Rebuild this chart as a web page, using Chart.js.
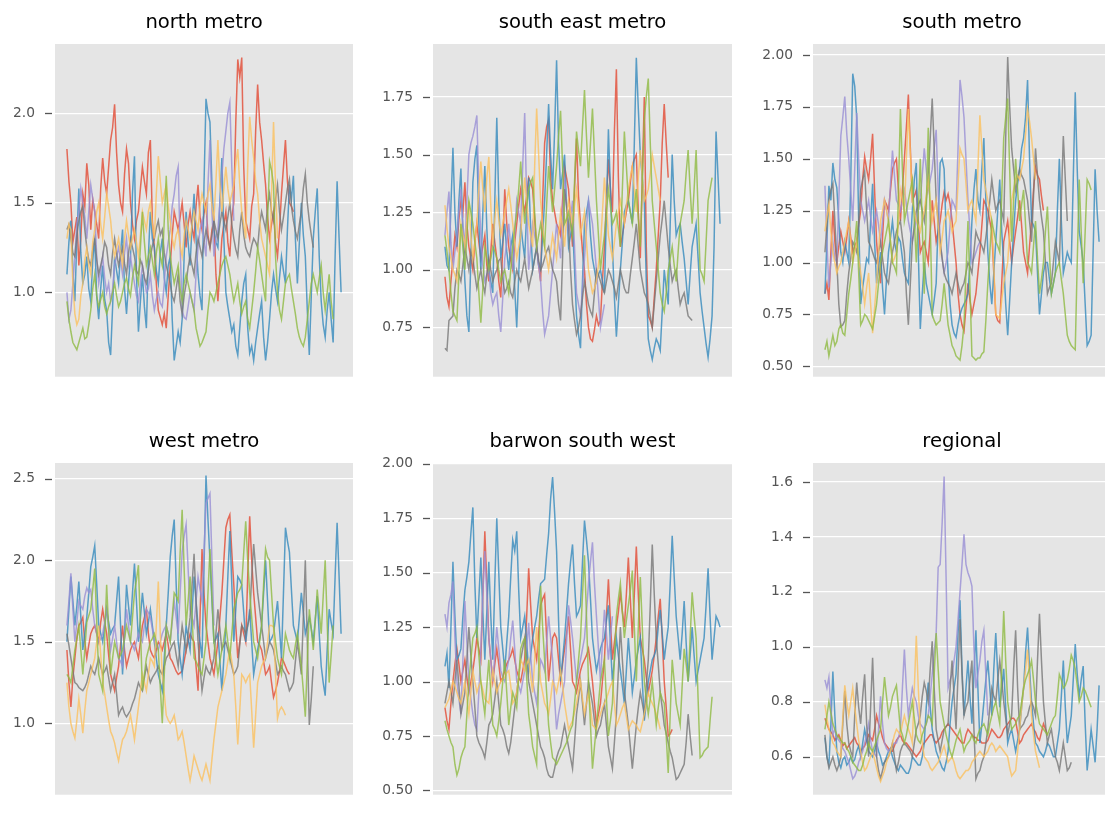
<!DOCTYPE html>
<html>
<head>
<meta charset="utf-8">
<script src="https://cdn.jsdelivr.net/npm/chart.js@4.4.0/dist/chart.umd.min.js"></script>
<style>
    html, body { margin: 0; padding: 0; background: #fff; overflow: hidden; width: 1105px; height: 818px; }
    canvas { position: absolute; }
</style>
</head>
<body>
<canvas id="g0" width="353" height="405" style="left:0px;top:0px"></canvas>
<canvas id="g1" width="354" height="405" style="left:378px;top:0px"></canvas>
<canvas id="g2" width="353" height="405" style="left:758px;top:0px"></canvas>
<canvas id="g3" width="353" height="404" style="left:0px;top:419px"></canvas>
<canvas id="g4" width="354" height="404" style="left:378px;top:419px"></canvas>
<canvas id="g5" width="353" height="404" style="left:758px;top:419px"></canvas>
<script>
var regioes = ['north metro', 'south east metro', 'south metro', 'west metro', 'barwon south west', 'regional'];
var cores = ['rgba(226,74,51,0.8)', 'rgba(52,138,189,0.8)', 'rgba(152,142,213,0.8)',
             'rgba(119,119,119,0.8)', 'rgba(251,193,94,0.8)', 'rgba(142,186,66,0.8)'];

// north metro
var nmVermelho = [1.80,1.62,1.50,1.28,1.35,1.42,1.15,1.30,1.55,1.48,
    1.72,1.60,1.35,1.52,1.45,1.38,1.30,1.58,1.75,1.62,
    1.55,1.70,1.85,1.92,2.05,1.78,1.60,1.50,1.45,1.66,
    1.80,1.72,1.50,1.38,1.30,1.40,1.45,1.58,1.70,1.62,
    1.55,1.78,1.85,1.40,1.25,1.05,0.90,0.86,0.82,0.88,
    0.80,0.98,1.15,1.32,1.45,1.40,1.35,1.42,1.50,1.38,
    1.25,1.38,1.45,1.36,1.30,1.48,1.60,1.42,1.35,1.44,
    1.50,1.32,1.25,1.35,1.40,1.10,0.95,1.12,1.30,1.38,
    1.45,1.28,1.20,1.42,1.50,1.95,2.30,2.20,2.31,1.70,
    1.40,1.35,1.30,1.48,1.55,1.90,2.16,1.95,1.85,1.72,
    1.60,1.42,1.30,1.38,1.45,1.28,1.20,1.35,1.55,1.70,
    1.85,1.62,1.50,1.48,1.45];
var nmAzul = [1.10,1.28,1.40,1.12,0.95,1.30,1.58,1.22,1.05,1.10,
    1.20,1.02,0.95,1.18,1.30,0.98,0.85,1.02,1.15,0.96,
    0.90,0.72,0.65,0.92,1.20,1.12,1.05,1.22,1.35,1.02,
    0.88,1.05,1.20,1.55,1.76,1.10,0.78,0.95,1.10,0.92,
    0.80,1.20,1.45,1.30,1.25,1.12,1.05,1.22,1.30,1.08,
    1.00,1.15,1.20,0.85,0.62,0.70,0.78,0.72,0.85,1.20,
    1.45,1.28,1.15,1.38,1.55,1.30,1.10,0.98,0.90,1.60,
    2.08,2.00,1.95,1.60,1.35,1.28,1.25,1.50,1.75,1.30,
    1.00,0.92,0.85,0.78,0.82,0.70,0.65,0.80,0.95,1.05,
    1.10,0.80,0.66,0.70,0.62,0.72,0.80,0.88,0.95,0.75,
    0.62,0.72,0.85,1.00,1.10,1.02,0.95,1.08,1.20,1.12,
    1.05,1.35,1.60,1.52,1.65,1.30,1.05,1.28,1.50,1.32,
    1.20,0.90,0.65,0.98,1.30,1.45,1.58,1.20,0.95,0.82,
    0.75,0.90,1.00,0.85,0.72,1.20,1.62,1.30,1.00];
var nmRoxo = [1.00,0.85,0.90,1.05,1.20,1.38,1.45,1.58,1.50,1.42,
    1.30,1.45,1.60,1.52,1.45,1.20,1.05,1.12,1.20,1.08,
    1.00,1.05,0.95,1.02,1.15,1.20,1.25,1.18,1.10,1.22,
    1.30,1.15,1.20,1.12,1.05,0.98,0.95,1.05,1.15,1.08,
    1.00,1.02,1.10,0.98,0.90,0.96,1.00,0.94,0.92,1.05,
    1.20,1.28,1.35,1.48,1.55,1.65,1.70,1.25,0.90,0.86,
    0.85,0.92,1.00,0.95,0.90,1.10,1.25,1.35,1.40,1.28,
    1.20,1.60,1.85,1.45,1.20,1.30,1.35,1.50,1.65,1.80,
    1.90,2.00,2.06,1.70,1.40];
var nmCinza = [1.35,1.38,1.30,1.22,1.20,1.32,1.40,1.45,1.48,1.35,
    1.25,1.18,1.15,1.24,1.30,1.18,1.10,1.15,1.20,1.28,
    1.25,1.15,1.10,1.22,1.30,1.22,1.15,1.20,1.25,1.16,
    1.10,1.22,1.30,1.25,1.20,1.12,1.10,1.18,1.15,1.08,
    1.05,1.12,1.20,1.26,1.30,1.36,1.40,1.32,1.35,1.22,
    1.15,1.10,1.05,0.98,0.95,1.02,1.10,0.95,0.88,0.98,
    1.05,1.14,1.20,1.15,1.10,1.22,1.30,1.25,1.20,1.28,
    1.35,1.30,1.25,1.32,1.40,1.35,1.30,1.38,1.45,1.40,
    1.35,1.42,1.50,1.38,1.30,1.24,1.20,1.35,1.45,1.32,
    1.25,1.22,1.20,1.26,1.30,1.28,1.25,1.38,1.45,1.40,
    1.35,1.48,1.55,1.45,1.40,1.52,1.60,1.45,1.35,1.42,
    1.50,1.58,1.63,1.48,1.40,1.34,1.30,1.38,1.45,1.58,
    1.66,1.50,1.40,1.32,1.25];
var nmAmarelo = [1.30,1.38,1.35,1.05,0.88,0.82,0.85,0.98,1.05,1.18,
    1.25,1.15,1.10,1.28,1.35,1.45,1.50,1.38,1.30,1.42,
    1.55,1.48,1.40,1.28,1.20,1.25,1.30,1.22,1.15,1.30,
    1.40,1.32,1.25,1.30,1.35,1.28,1.20,1.32,1.45,1.40,
    1.35,1.45,1.50,1.38,1.30,1.55,1.76,1.62,1.50,1.55,
    1.60,1.48,1.40,1.30,1.25,1.32,1.35,1.26,1.20,1.32,
    1.40,1.35,1.30,1.38,1.45,1.40,1.35,1.48,1.55,1.50,
    1.45,1.55,1.60,1.48,1.40,1.62,1.85,1.60,1.45,1.58,
    1.70,1.58,1.50,1.55,1.60,1.72,1.80,1.60,1.45,1.38,
    1.30,1.70,1.98,1.85,1.75,1.62,1.55,1.40,1.30,1.25,
    1.20,1.15,1.10,1.55,1.95,1.60,1.30];
var nmVerde = [0.95,0.85,0.78,0.72,0.70,0.68,0.72,0.76,0.80,0.74,
    0.75,0.82,0.90,1.02,1.10,0.98,0.92,0.96,1.00,0.92,
    0.88,0.92,0.95,1.00,1.05,0.98,0.92,0.95,1.00,1.05,
    1.08,1.02,0.98,1.08,1.15,1.10,1.05,1.25,1.45,1.28,
    1.15,1.20,1.25,1.18,1.10,1.22,1.30,1.20,1.15,1.40,
    1.65,1.35,1.20,1.12,1.05,1.10,1.15,1.02,0.95,1.05,
    1.10,1.05,1.00,0.95,0.90,0.80,0.75,0.70,0.72,0.75,
    0.78,0.90,1.00,0.98,0.95,1.00,1.05,1.10,1.15,1.18,
    1.20,1.15,1.10,1.02,0.95,1.00,1.05,0.95,0.88,0.92,
    0.95,0.85,0.80,0.90,1.00,1.12,1.25,1.18,1.10,1.02,
    0.95,1.40,1.73,1.68,1.60,1.20,1.00,0.90,0.85,0.95,
    1.05,1.08,1.10,1.02,0.95,0.88,0.80,0.75,0.72,0.70,
    0.75,0.85,0.95,1.05,1.10,1.05,1.00,1.08,1.15,1.00,
    0.90,1.00,1.10,0.95,0.85];
var nmTicks = [1.0, 1.5, 2.0];

// south east metro
var semVermelho = [0.97,0.88,0.84,0.95,1.05,1.15,1.10,1.22,1.30,1.25,
    1.38,1.20,1.10,1.05,1.00,1.12,1.20,1.12,1.05,1.10,
    1.15,1.02,0.95,1.08,1.20,1.12,1.05,0.95,0.88,1.10,
    1.35,1.20,1.10,1.04,1.00,1.12,1.20,1.28,1.35,1.30,
    1.25,1.32,1.40,1.38,1.35,1.22,1.10,1.02,0.95,1.30,
    1.55,1.62,1.65,1.40,1.30,1.25,1.20,1.18,1.15,1.30,
    1.45,1.40,1.35,1.22,1.10,1.35,1.57,1.32,1.20,1.08,
    1.00,0.85,0.75,0.70,0.69,0.74,0.80,0.76,0.78,0.95,
    1.10,1.30,1.48,1.35,1.25,1.60,1.87,1.40,1.10,1.15,
    1.20,1.25,1.30,1.38,1.45,1.48,1.50,1.25,1.05,1.40,
    1.75,1.10,0.80,0.78,0.75,0.88,1.00,1.15,1.30,1.55,
    1.72,1.55,1.40];
var semAzul = [1.10,1.02,1.00,1.28,1.53,1.25,1.10,1.30,1.44,1.15,
    0.95,0.80,0.73,1.05,1.38,1.48,1.54,1.20,1.00,1.25,
    1.45,1.18,1.00,0.95,0.90,1.30,1.66,1.30,1.05,1.12,
    1.20,1.08,1.00,1.10,1.15,0.92,0.75,0.98,1.20,1.12,
    1.05,1.25,1.40,1.18,1.00,1.05,1.10,1.02,1.00,1.15,
    1.30,1.50,1.72,1.50,1.35,1.60,1.91,1.55,1.35,1.42,
    1.50,1.28,1.10,1.15,1.20,1.00,0.80,0.72,0.66,0.95,
    1.20,1.25,1.30,1.15,1.05,1.00,0.95,0.98,1.00,0.95,
    0.90,1.25,1.61,1.35,1.10,0.88,0.71,0.85,1.00,1.12,
    1.25,1.28,1.30,1.25,1.20,1.55,1.92,1.70,1.50,1.40,
    1.30,0.95,0.70,0.65,0.61,0.66,0.70,0.68,0.65,0.82,
    1.00,0.92,0.85,1.20,1.50,1.30,1.15,1.18,1.20,1.12,
    1.05,0.95,0.85,0.98,1.10,1.15,1.20,1.05,0.90,0.82,
    0.75,0.68,0.62,0.70,0.80,1.10,1.60,1.40,1.20];
var semRoxo = [1.15,1.25,1.34,1.12,1.00,1.08,1.15,1.25,1.35,1.20,
    1.10,1.30,1.50,1.55,1.58,1.62,1.67,1.35,1.15,1.02,
    0.95,0.98,1.00,0.90,0.85,0.88,0.90,0.80,0.73,0.88,
    1.05,1.12,1.20,1.10,1.00,1.15,1.30,1.25,1.20,1.45,
    1.68,1.30,1.00,1.10,1.20,1.15,1.10,1.02,0.95,0.82,
    0.72,0.76,0.80,0.90,1.00,1.10,1.20,1.12,1.05,1.25,
    1.40,1.28,1.15,1.22,1.30,1.10,0.90,0.85,0.80,0.92,
    1.05,1.18,1.30,1.25,1.20,1.10,1.00,0.88,0.75,0.80,
    0.85];
var semCinza = [0.66,0.65,0.78,0.79,0.80,0.92,1.00,0.98,0.95,1.02,
    1.10,1.05,1.00,1.08,1.05,0.98,0.92,0.96,1.00,0.94,
    0.90,0.98,1.05,1.00,0.95,0.98,1.00,1.04,1.05,0.96,
    0.90,0.92,0.95,0.90,0.88,0.95,1.00,0.97,0.95,1.00,
    1.05,0.98,0.92,0.96,1.00,1.05,1.10,1.04,1.00,1.02,
    1.05,1.08,1.10,1.05,1.00,0.98,0.95,0.85,0.78,1.05,
    1.35,1.28,1.20,1.00,0.85,0.78,0.72,0.75,0.80,0.88,
    0.95,0.90,0.85,0.82,0.80,0.90,1.00,0.98,0.95,0.92,
    0.90,0.95,1.00,0.98,0.95,0.92,0.88,0.94,1.00,0.96,
    0.92,0.90,0.90,0.98,1.05,1.12,1.20,1.10,1.00,0.95,
    0.90,0.88,0.85,0.80,0.75,0.85,0.95,1.05,1.15,1.22,
    1.30,1.20,1.10,1.02,0.95,0.98,1.00,0.92,0.85,0.88,
    0.90,0.85,0.80,0.79,0.78];
var semAmarelo = [1.28,1.18,1.10,1.05,1.00,0.98,0.95,1.08,1.20,1.15,
    1.10,1.22,1.30,1.15,1.05,1.12,1.20,1.35,1.47,1.35,
    1.25,1.40,1.49,1.28,1.10,1.22,1.30,1.22,1.15,1.20,
    1.25,1.30,1.35,1.28,1.20,1.12,1.05,1.10,1.15,1.28,
    1.40,1.30,1.20,1.15,1.10,1.45,1.70,1.50,1.30,1.20,
    1.10,1.05,1.00,1.08,1.15,1.10,1.05,1.15,1.25,1.18,
    1.10,1.22,1.30,1.25,1.20,1.28,1.35,1.25,1.15,1.20,
    1.25,1.12,1.00,0.95,0.90,0.92,0.95,1.02,1.10,1.25,
    1.40,1.28,1.15,1.10,1.05,1.12,1.20,1.25,1.30,1.25,
    1.20,1.28,1.35,1.40,1.45,1.35,1.25,1.40,1.52,1.40,
    1.30,1.32,1.35,1.42,1.50,1.45,1.40,1.35,1.30];
var semVerde = [1.15,1.08,1.00,0.90,0.82,0.80,0.78,0.98,1.20,1.10,
    1.00,1.15,1.30,1.25,1.20,1.12,1.05,0.90,0.77,0.92,
    1.10,1.05,1.00,1.05,1.10,1.08,1.05,1.00,0.95,0.98,
    1.00,0.95,0.90,1.00,1.10,1.18,1.25,1.35,1.47,1.32,
    1.20,1.28,1.35,1.38,1.40,1.25,1.10,1.15,1.20,1.15,
    1.10,1.28,1.45,1.35,1.25,1.35,1.45,1.58,1.69,1.45,
    1.20,1.22,1.25,1.20,1.15,1.38,1.60,1.52,1.45,1.62,
    1.78,1.58,1.40,1.55,1.70,1.50,1.30,1.15,1.00,1.08,
    1.15,1.25,1.35,1.28,1.20,1.22,1.25,1.18,1.10,1.35,
    1.60,1.45,1.30,1.25,1.20,1.28,1.35,1.22,1.10,1.38,
    1.65,1.75,1.83,1.55,1.30,1.20,1.10,1.00,0.90,0.85,
    0.82,0.90,1.00,1.05,1.10,1.02,0.95,1.08,1.20,1.25,
    1.30,1.42,1.52,1.35,1.20,1.35,1.52,1.25,1.00,0.98,
    0.95,1.12,1.30,1.35,1.40];
var semTicks = [0.75, 1.00, 1.25, 1.50, 1.75];

// south metro
var smVermelho = [0.85,0.90,0.82,1.05,1.25,1.10,1.00,1.08,1.15,1.10,
    1.05,1.12,1.20,1.12,1.05,1.08,1.10,1.18,1.25,1.40,
    1.51,1.45,1.40,1.50,1.62,1.35,1.10,0.98,0.90,1.12,
    1.30,1.28,1.25,1.35,1.45,1.48,1.50,1.35,1.20,1.35,
    1.50,1.65,1.81,1.55,1.30,1.32,1.35,1.20,1.05,1.08,
    1.10,1.05,1.00,1.15,1.30,1.20,1.10,1.15,1.20,1.28,
    1.34,1.30,1.33,1.28,1.20,1.10,1.00,0.85,0.75,0.70,
    0.67,0.78,0.90,0.82,0.75,0.80,0.85,0.95,1.05,1.18,
    1.30,1.28,1.25,1.20,1.15,0.95,0.75,0.72,0.71,0.90,
    1.10,1.15,1.20,1.10,1.00,1.08,1.15,1.22,1.30,1.18,
    1.05,1.00,0.95,1.08,1.20,1.35,1.46,1.42,1.40,1.32,
    1.25];
var smAzul = [0.85,1.10,1.37,1.30,1.48,1.40,1.36,1.20,1.05,1.00,
    1.10,1.05,1.00,1.40,1.91,1.85,1.70,1.20,0.80,0.88,
    0.95,1.02,1.00,1.20,1.38,1.10,0.90,0.98,1.05,0.88,
    0.75,0.92,1.05,1.12,1.20,1.10,1.05,1.12,1.10,1.02,
    0.95,0.92,0.90,1.08,1.25,1.40,1.48,1.05,0.68,0.85,
    1.00,0.90,0.85,0.80,0.75,0.82,0.90,1.20,1.48,1.50,
    1.45,1.15,0.95,0.80,0.70,0.66,0.64,0.70,0.75,0.78,
    0.80,0.82,0.85,1.00,1.20,1.35,1.45,1.30,1.25,1.45,
    1.60,1.30,1.05,0.90,0.80,0.95,1.10,1.25,1.40,1.15,
    1.00,0.80,0.65,0.82,1.00,1.15,1.30,1.38,1.45,1.55,
    1.60,1.70,1.88,1.50,1.20,1.18,1.15,0.95,0.75,0.85,
    0.95,1.00,1.00,0.92,0.85,0.90,0.95,1.25,1.50,1.20,
    0.95,1.00,1.05,1.02,1.00,1.40,1.82,1.45,1.15,1.08,
    1.00,0.80,0.60,0.62,0.65,1.05,1.45,1.25,1.10];
var smRoxo = [1.37,1.10,0.88,1.00,1.10,1.02,1.00,1.30,1.61,1.70,
    1.80,1.62,1.50,1.35,1.20,1.45,1.72,1.50,1.30,1.25,
    1.20,1.25,1.30,1.22,1.15,1.20,1.25,1.18,1.10,1.20,
    1.30,1.25,1.20,1.38,1.54,1.42,1.30,1.28,1.25,1.30,
    1.35,1.28,1.20,1.15,1.10,1.15,1.20,1.25,1.30,1.42,
    1.55,1.45,1.35,1.40,1.45,1.55,1.64,1.35,1.10,1.02,
    0.95,1.00,1.05,1.18,1.30,1.28,1.25,1.55,1.88,1.80,
    1.70,1.50,1.30,1.15,1.00,1.02,1.05,1.08,1.10];
var smCinza = [1.05,1.18,1.30,1.35,1.38,1.20,1.00,0.80,0.69,0.70,
    0.72,0.85,0.95,1.02,1.10,1.08,1.05,1.20,1.35,1.40,
    1.44,1.25,1.10,1.08,1.05,1.02,1.00,1.05,1.10,1.02,
    0.95,0.92,0.90,0.98,1.05,1.10,1.15,1.18,1.20,1.12,
    1.05,0.85,0.70,0.90,1.10,1.18,1.25,1.28,1.30,1.25,
    1.20,1.30,1.40,1.60,1.79,1.55,1.30,1.20,1.10,1.02,
    0.95,0.92,0.90,0.88,0.85,0.90,0.95,0.90,0.85,0.88,
    0.90,0.95,1.00,0.98,0.95,1.05,1.15,1.12,1.10,1.08,
    1.05,1.12,1.20,1.30,1.40,1.32,1.25,1.28,1.30,1.25,
    1.20,1.60,1.99,1.75,1.55,1.45,1.35,1.40,1.45,1.42,
    1.40,1.35,1.30,1.20,1.10,1.32,1.55,1.42,1.30,1.22,
    1.15,1.00,0.85,0.88,0.90,1.00,1.10,1.05,1.00,1.30,
    1.61,1.40,1.20];
var smAmarelo = [1.15,1.22,1.28,1.15,1.05,1.00,0.95,0.98,1.00,1.05,
    1.10,1.15,1.20,1.10,1.00,1.05,1.10,1.02,0.95,0.88,
    0.80,0.88,0.95,0.80,0.66,0.78,0.90,1.05,1.20,1.25,
    1.30,1.25,1.20,1.10,1.00,1.02,1.05,1.20,1.35,1.30,
    1.25,1.50,1.74,1.52,1.30,1.25,1.20,1.18,1.15,1.20,
    1.25,1.32,1.40,1.30,1.20,1.25,1.30,1.18,1.05,1.12,
    1.20,1.22,1.25,1.20,1.15,1.18,1.20,1.38,1.55,1.52,
    1.50,1.38,1.25,1.28,1.30,1.25,1.20,1.45,1.71,1.55,
    1.40,1.35,1.30,1.25,1.20,0.98,0.75,0.74,0.73,0.82,
    0.90,0.95,1.00,1.15,1.30,1.35,1.40,1.42,1.40,1.45,
    1.50,1.62,1.74,1.68,1.60,1.50,1.40];
var smVerde = [0.58,0.62,0.55,0.60,0.65,0.60,0.62,0.68,0.70,0.66,
    0.65,0.75,0.85,0.92,1.00,1.10,1.20,0.95,0.70,0.72,
    0.75,0.74,0.72,0.70,0.68,0.74,0.80,0.90,1.00,1.05,
    1.10,1.15,1.20,1.10,1.00,0.98,0.95,1.35,1.74,1.45,
    1.20,1.25,1.30,1.35,1.40,1.20,1.00,1.25,1.50,1.18,
    0.85,1.25,1.65,1.20,0.75,0.72,0.70,0.71,0.72,0.80,
    0.90,0.80,0.70,0.65,0.60,0.58,0.55,0.54,0.53,0.60,
    0.70,0.95,1.20,0.88,0.55,0.54,0.53,0.54,0.54,0.56,
    0.57,0.72,0.90,1.05,1.20,1.15,1.10,1.08,1.05,1.32,
    1.60,1.70,1.79,1.45,1.10,1.30,1.50,1.35,1.20,1.28,
    1.35,1.18,1.00,0.98,0.95,1.08,1.20,1.02,0.85,0.92,
    1.00,1.15,1.27,1.05,0.85,0.90,0.95,0.98,1.00,0.92,
    0.85,0.75,0.65,0.62,0.60,0.59,0.58,1.00,1.40,1.15,
    0.90,1.15,1.40,1.38,1.35];
var smTicks = [0.50, 0.75, 1.00, 1.25, 1.50, 1.75, 2.00];

// west metro
var wmVermelho = [1.45,1.25,1.10,1.28,1.40,1.52,1.60,1.62,1.65,1.50,
    1.40,1.48,1.55,1.58,1.60,1.55,1.50,1.62,1.70,1.62,
    1.55,1.42,1.30,1.25,1.20,1.28,1.35,1.48,1.60,1.45,
    1.35,1.40,1.45,1.48,1.50,1.45,1.40,1.50,1.60,1.65,
    1.70,1.55,1.45,1.42,1.40,1.45,1.50,1.48,1.45,1.50,
    1.55,1.48,1.40,1.38,1.35,1.32,1.30,1.31,1.32,1.38,
    1.45,1.50,1.55,1.52,1.50,1.35,1.20,1.65,2.07,1.80,
    1.60,1.50,1.40,1.35,1.30,1.40,1.50,1.65,1.80,2.00,
    2.20,2.25,2.28,2.05,1.85,1.60,1.40,1.50,1.60,1.55,
    1.50,1.90,2.27,2.00,1.80,1.65,1.50,1.48,1.45,1.38,
    1.30,1.32,1.35,1.25,1.16,1.20,1.25,1.32,1.40,1.38,
    1.35,1.32,1.30];
var wmAzul = [1.50,1.70,1.90,1.75,1.60,1.72,1.87,1.65,1.45,1.55,
    1.65,1.80,1.96,2.02,2.09,1.85,1.60,1.55,1.50,1.60,
    1.70,1.62,1.55,1.58,1.60,1.75,1.90,1.60,1.30,1.55,
    1.85,1.72,1.60,1.80,1.98,1.75,1.50,1.65,1.80,1.68,
    1.55,1.62,1.70,1.60,1.50,1.40,1.30,1.25,1.20,1.40,
    1.60,1.80,2.02,2.15,2.25,1.85,1.50,1.40,1.30,1.45,
    1.60,1.52,1.45,1.68,1.90,1.75,1.60,1.50,1.40,1.95,
    2.52,2.25,2.00,1.75,1.50,1.52,1.55,1.38,1.20,1.40,
    1.60,1.90,2.18,1.85,1.50,1.70,1.90,1.88,1.85,1.68,
    1.50,1.60,1.70,1.50,1.30,1.38,1.45,1.52,1.60,1.80,
    2.00,1.75,1.50,1.52,1.55,1.65,1.75,1.58,1.40,1.80,
    2.20,2.12,2.05,1.82,1.60,1.55,1.50,1.65,1.80,1.68,
    1.55,1.60,1.65,1.58,1.50,1.64,1.78,1.55,1.35,1.25,
    1.17,1.45,1.70,1.62,1.55,1.90,2.23,1.90,1.55];
var wmRoxo = [1.60,1.75,1.92,1.70,1.50,1.62,1.75,1.72,1.70,1.78,
    1.83,1.80,1.82,1.70,1.60,1.55,1.50,1.52,1.55,1.62,
    1.70,1.58,1.45,1.52,1.60,1.50,1.40,1.38,1.35,1.52,
    1.70,1.60,1.50,1.48,1.45,1.50,1.55,1.52,1.50,1.60,
    1.70,1.68,1.65,1.58,1.50,1.48,1.45,1.50,1.55,1.58,
    1.60,1.55,1.50,1.62,1.75,1.65,1.55,1.80,2.05,2.15,
    2.22,1.95,1.70,1.65,1.60,1.75,1.90,1.82,1.75,2.05,
    2.35,2.38,2.41,2.00,1.60];
var wmCinza = [1.55,1.48,1.40,1.32,1.25,1.24,1.22,1.21,1.20,1.22,
    1.25,1.30,1.35,1.32,1.30,1.35,1.40,1.35,1.30,1.32,
    1.35,1.28,1.20,1.25,1.30,1.18,1.05,1.08,1.10,1.06,
    1.04,1.06,1.08,1.12,1.15,1.20,1.25,1.22,1.20,1.28,
    1.35,1.30,1.25,1.28,1.30,1.32,1.35,1.32,1.30,1.35,
    1.40,1.42,1.45,1.48,1.50,1.42,1.35,1.48,1.60,1.52,
    1.45,1.55,1.65,1.85,2.04,1.75,1.50,1.35,1.20,1.28,
    1.35,1.32,1.30,1.35,1.40,1.55,1.70,1.58,1.45,1.48,
    1.50,1.45,1.40,1.35,1.30,1.32,1.35,1.48,1.60,1.58,
    1.55,1.60,1.65,1.90,2.10,1.95,1.80,1.70,1.60,1.50,
    1.40,1.45,1.50,1.48,1.45,1.38,1.30,1.32,1.35,1.32,
    1.30,1.25,1.20,1.22,1.25,1.38,1.50,1.40,1.30,1.65,
    2.00,1.50,0.99,1.15,1.35];
var wmAmarelo = [1.25,1.10,1.00,0.95,0.91,1.02,1.15,1.05,0.94,1.08,
    1.20,1.25,1.30,1.35,1.40,1.50,1.60,1.42,1.25,1.18,
    1.10,1.02,0.95,0.92,0.88,0.82,0.77,0.84,0.90,0.92,
    0.95,1.00,1.05,0.98,0.90,1.00,1.10,1.20,1.30,1.25,
    1.20,1.30,1.40,1.38,1.35,1.60,1.87,1.55,1.30,1.18,
    1.05,1.02,1.00,1.02,1.05,0.98,0.90,0.92,0.95,0.88,
    0.80,0.72,0.65,0.72,0.80,0.76,0.72,0.68,0.65,0.70,
    0.75,0.70,0.65,0.78,0.90,1.00,1.10,1.15,1.20,1.25,
    1.30,1.38,1.45,1.38,1.30,1.10,0.87,1.08,1.30,1.28,
    1.25,1.28,1.30,1.08,0.85,1.05,1.25,1.30,1.35,1.38,
    1.40,1.50,1.60,1.60,1.59,1.30,1.03,1.08,1.10,1.08,
    1.05];
var wmVerde = [1.30,1.28,1.25,1.35,1.45,1.52,1.60,1.45,1.30,1.45,
    1.62,1.66,1.70,1.82,1.95,1.62,1.30,1.25,1.20,1.52,
    1.85,1.58,1.30,1.40,1.50,1.45,1.40,1.42,1.45,1.52,
    1.60,1.55,1.50,1.65,1.80,1.88,1.97,1.58,1.20,1.30,
    1.40,1.45,1.50,1.52,1.55,1.50,1.45,1.22,1.00,1.30,
    1.60,1.55,1.50,1.65,1.80,1.78,1.75,2.05,2.31,1.95,
    1.60,1.75,1.90,1.65,1.40,1.38,1.35,1.32,1.30,1.40,
    1.50,1.80,2.07,1.78,1.50,1.40,1.30,1.38,1.45,1.52,
    1.60,1.50,1.40,1.55,1.70,1.75,1.80,1.82,1.85,2.05,
    2.24,2.00,1.80,1.65,1.50,1.45,1.40,1.50,1.60,1.85,
    2.07,2.02,2.00,1.80,1.60,1.50,1.40,1.35,1.30,1.42,
    1.55,1.50,1.45,1.42,1.40,1.48,1.55,1.45,1.35,1.20,
    1.04,1.38,1.70,1.58,1.45,1.62,1.82,1.68,1.55,1.78,
    2.00,1.62,1.25,1.42,1.60];
var wmTicks = [1.0, 1.5, 2.0, 2.5];

// barwon south west
var bswVermelho = [0.88,0.82,0.78,0.90,1.00,1.08,1.15,1.08,1.00,1.05,
    1.10,1.02,0.95,1.00,1.05,1.12,1.20,1.15,1.10,1.40,
    1.69,1.45,1.20,1.10,1.00,1.08,1.15,1.08,1.00,1.02,
    1.05,1.08,1.10,1.12,1.15,1.10,1.05,1.02,1.00,1.05,
    1.10,1.30,1.52,1.35,1.20,1.15,1.10,1.22,1.35,1.38,
    1.40,1.20,1.00,1.10,1.20,1.22,1.20,1.10,1.00,1.08,
    1.15,1.22,1.30,1.15,1.00,0.98,0.95,1.00,1.05,1.08,
    1.10,1.12,1.15,1.08,1.00,0.90,0.80,0.85,0.90,1.00,
    1.10,1.30,1.47,1.28,1.10,1.18,1.25,1.32,1.41,1.32,
    1.25,1.40,1.57,1.38,1.20,1.40,1.62,1.40,1.20,1.15,
    1.10,1.02,0.95,1.00,1.05,1.12,1.20,1.30,1.38,1.20,
    1.00,0.88,0.75,0.76,0.78];
var bswAzul = [1.07,1.13,0.97,1.25,1.55,1.30,1.10,1.12,1.15,1.30,
    1.42,1.48,1.55,1.68,1.80,1.45,1.20,1.38,1.57,1.32,
    1.10,1.32,1.55,1.30,1.10,1.45,1.75,1.50,1.25,1.15,
    1.05,1.18,1.30,1.48,1.65,1.60,1.69,1.42,1.20,1.25,
    1.30,1.18,1.05,1.12,1.20,1.25,1.30,1.38,1.45,1.46,
    1.47,1.58,1.68,1.84,1.94,1.78,1.60,1.28,1.00,1.10,
    1.20,1.32,1.45,1.55,1.63,1.45,1.30,1.32,1.35,1.55,
    1.74,1.65,1.55,1.38,1.20,1.12,1.05,1.10,1.15,1.18,
    1.20,1.28,1.35,1.18,1.00,1.10,1.20,1.12,1.05,0.98,
    0.90,1.05,1.20,1.08,0.95,1.02,1.10,1.15,1.20,1.00,
    0.82,0.90,1.00,1.05,1.10,1.12,1.15,1.25,1.33,1.22,
    1.10,1.18,1.25,1.45,1.67,1.48,1.30,1.20,1.10,1.22,
    1.37,1.18,1.00,1.12,1.25,1.12,1.00,1.05,1.10,1.15,
    1.20,1.35,1.52,1.30,1.10,1.20,1.30,1.28,1.25];
var bswRoxo = [1.31,1.25,1.36,1.40,1.46,1.20,1.00,0.92,0.85,1.10,
    1.37,1.18,1.00,0.92,0.85,0.80,0.78,0.95,1.15,1.40,
    1.60,1.40,1.20,1.10,1.00,1.12,1.25,1.15,1.05,1.02,
    1.00,1.05,1.10,1.20,1.28,1.15,1.00,0.98,0.95,1.00,
    1.05,1.15,1.27,1.12,1.00,0.95,0.90,1.00,1.10,1.08,
    1.05,1.18,1.30,1.20,1.10,0.92,0.78,0.85,0.90,0.95,
    1.00,1.18,1.35,1.28,1.20,1.10,1.00,1.05,1.10,1.15,
    1.20,1.32,1.45,1.55,1.64,1.45,1.30,1.15,1.00,1.18,
    1.33,1.22,1.10,1.20,1.30];
var bswCinza = [0.90,0.95,1.00,0.95,0.90,1.00,1.10,0.98,0.85,0.90,
    0.95,1.10,1.25,1.12,1.00,0.88,0.75,0.72,0.70,0.68,
    0.65,0.72,0.80,0.82,0.85,0.92,1.00,0.90,0.80,0.78,
    0.75,0.70,0.67,0.72,0.80,0.88,0.95,1.02,1.10,1.15,
    1.20,1.10,1.00,0.95,0.90,0.85,0.80,0.75,0.70,0.68,
    0.65,0.60,0.57,0.56,0.56,0.60,0.65,0.68,0.70,0.75,
    0.80,0.75,0.70,0.65,0.60,0.72,0.85,0.92,1.00,0.90,
    0.80,0.90,1.00,0.95,0.90,0.82,0.75,0.78,0.80,0.85,
    0.90,0.80,0.70,0.65,0.60,0.72,0.85,1.05,1.25,1.10,
    0.95,0.88,0.80,0.70,0.60,0.70,0.80,0.88,0.95,0.90,
    0.85,0.98,1.10,1.35,1.63,1.40,1.20,1.08,0.95,0.88,
    0.80,0.76,0.72,0.68,0.65,0.60,0.55,0.56,0.58,0.60,
    0.62,0.72,0.85,0.75,0.66];
var bswAmarelo = [0.88,0.90,0.92,0.96,1.00,0.98,0.95,0.92,0.90,0.95,
    1.00,0.92,0.85,0.95,1.05,1.00,0.95,0.98,1.00,0.96,
    0.92,0.91,0.90,0.98,1.05,1.00,0.95,0.98,1.00,1.01,
    1.02,1.04,1.05,0.98,0.90,0.92,0.95,1.02,1.10,1.08,
    1.05,1.08,1.10,1.02,0.95,1.10,1.25,1.12,1.00,0.95,
    0.90,0.88,0.85,0.92,1.00,0.98,0.95,1.00,1.05,0.98,
    0.90,0.84,0.78,0.80,0.82,0.86,0.90,0.95,1.00,0.92,
    0.85,0.90,0.95,0.88,0.80,0.79,0.78,0.82,0.85,0.88,
    0.90,0.92,0.95,0.98,1.00,0.90,0.80,0.82,0.85,0.88,
    0.90,0.84,0.78,0.80,0.82,0.81,0.80,0.78,0.77,0.81,
    0.85,0.90,0.95,0.92,0.90,0.88,0.85,0.82,0.78];
var bswVerde = [0.82,0.78,0.75,0.72,0.70,0.62,0.57,0.60,0.65,0.68,
    0.70,0.85,1.00,1.10,1.20,1.22,1.25,1.12,1.00,0.92,
    0.85,0.98,1.10,0.95,0.80,0.78,0.75,0.82,0.90,1.00,
    1.10,0.95,0.80,0.88,0.95,0.92,0.88,1.02,1.15,1.18,
    1.20,1.02,0.85,0.78,0.70,0.66,0.62,1.05,1.44,1.25,
    1.10,0.95,0.80,0.72,0.65,0.64,0.62,0.64,0.66,0.68,
    0.70,0.72,0.75,0.78,0.80,0.90,1.00,1.10,1.20,1.40,
    1.58,1.30,1.00,0.80,0.60,0.70,0.80,0.90,1.00,1.05,
    1.10,0.92,0.75,0.82,0.90,1.10,1.30,1.38,1.45,1.32,
    1.20,1.28,1.35,1.42,1.51,1.25,1.00,1.25,1.48,1.25,
    1.00,0.92,0.85,0.92,1.00,0.90,0.80,0.88,0.95,0.92,
    0.90,0.75,0.58,0.85,1.10,1.00,0.90,0.85,0.80,0.98,
    1.15,1.08,1.00,1.20,1.41,1.30,1.20,0.92,0.65,0.66,
    0.68,0.69,0.70,0.82,0.93];
var bswTicks = [0.50, 0.75, 1.00, 1.25, 1.50, 1.75, 2.00];

// regional
var regVermelho = [0.74,0.72,0.70,0.69,0.68,0.66,0.67,0.68,0.66,0.64,
    0.65,0.63,0.64,0.65,0.66,0.67,0.65,0.64,0.62,0.63,
    0.64,0.66,0.68,0.67,0.66,0.70,0.75,0.72,0.70,0.67,
    0.65,0.64,0.63,0.62,0.62,0.64,0.66,0.67,0.68,0.66,
    0.65,0.65,0.64,0.63,0.62,0.61,0.60,0.61,0.62,0.64,
    0.65,0.66,0.67,0.68,0.68,0.66,0.65,0.66,0.67,0.69,
    0.70,0.71,0.72,0.71,0.70,0.69,0.68,0.67,0.66,0.65,
    0.65,0.68,0.70,0.69,0.68,0.67,0.67,0.66,0.66,0.65,
    0.65,0.65,0.66,0.68,0.70,0.69,0.68,0.67,0.67,0.68,
    0.70,0.71,0.72,0.73,0.74,0.74,0.73,0.69,0.65,0.66,
    0.68,0.69,0.70,0.71,0.72,0.70,0.69,0.67,0.66,0.69,
    0.72,0.70,0.68];
var regAzul = [0.67,0.60,0.57,0.72,0.91,0.75,0.62,0.58,0.56,0.59,
    0.60,0.57,0.58,0.60,0.58,0.59,0.62,0.64,0.60,0.65,
    0.70,0.66,0.62,0.61,0.60,0.62,0.65,0.62,0.60,0.57,
    0.58,0.60,0.62,0.63,0.60,0.58,0.56,0.55,0.57,0.56,
    0.55,0.54,0.54,0.56,0.60,0.59,0.58,0.57,0.57,0.60,
    0.65,0.78,0.87,0.78,0.70,0.66,0.62,0.60,0.58,0.56,
    0.55,0.58,0.62,0.72,0.80,0.85,0.90,1.05,1.17,0.92,
    0.75,0.85,0.95,0.82,0.72,0.90,1.06,0.85,0.65,0.72,
    0.80,0.88,0.95,0.85,0.75,0.92,1.05,0.90,0.78,0.85,
    0.92,0.78,0.65,0.68,0.70,0.66,0.62,0.66,0.70,0.78,
    0.85,0.98,1.07,0.92,0.80,0.72,0.65,0.64,0.62,0.61,
    0.60,0.62,0.65,0.64,0.62,0.60,0.60,0.65,0.70,0.82,
    0.95,0.78,0.65,0.70,0.75,0.88,1.01,0.90,0.82,0.88,
    0.93,0.72,0.55,0.62,0.70,0.64,0.58,0.70,0.86];
var regRoxo = [0.88,0.85,0.89,0.78,0.68,0.70,0.67,0.66,0.65,0.63,
    0.62,0.60,0.58,0.55,0.52,0.53,0.55,0.58,0.60,0.62,
    0.65,0.68,0.72,0.66,0.62,0.61,0.60,0.70,0.82,0.72,
    0.65,0.63,0.62,0.63,0.64,0.65,0.65,0.67,0.70,0.85,
    0.99,0.85,0.75,0.80,0.85,0.82,0.80,0.75,0.72,0.71,
    0.70,0.72,0.75,0.82,0.90,0.98,1.05,1.29,1.30,1.45,
    1.62,1.25,0.85,0.88,0.90,0.95,1.00,1.10,1.20,1.30,
    1.41,1.30,1.27,1.25,1.22,1.00,0.85,0.90,0.95,1.02,
    1.06,0.90,0.75];
var regCinza = [0.68,0.60,0.56,0.58,0.60,0.57,0.55,0.57,0.60,0.72,
    0.84,0.72,0.65,0.62,0.60,0.75,0.87,0.78,0.72,0.82,
    0.90,0.72,0.60,0.78,0.96,0.75,0.60,0.55,0.52,0.55,
    0.58,0.59,0.60,0.62,0.65,0.60,0.55,0.58,0.62,0.64,
    0.65,0.64,0.63,0.62,0.60,0.65,0.70,0.72,0.75,0.82,
    0.87,0.84,0.80,0.92,1.02,0.85,0.70,0.66,0.62,0.66,
    0.70,0.71,0.72,0.85,0.95,0.82,0.70,0.90,1.10,0.90,
    0.75,0.78,0.80,0.88,0.95,0.70,0.52,0.54,0.55,0.58,
    0.60,0.65,0.70,0.78,0.85,0.82,0.80,0.88,0.95,0.88,
    0.80,0.74,0.68,0.72,0.75,0.92,1.06,0.85,0.70,0.71,
    0.72,0.74,0.75,0.78,0.80,0.78,0.75,0.95,1.12,0.95,
    0.80,0.72,0.65,0.68,0.70,0.65,0.60,0.58,0.55,0.60,
    0.65,0.60,0.55,0.56,0.58];
var regAmarelo = [0.79,0.74,0.70,0.68,0.65,0.64,0.62,0.61,0.60,0.74,
    0.86,0.80,0.75,0.80,0.85,0.78,0.72,0.66,0.62,0.58,
    0.55,0.56,0.58,0.60,0.62,0.59,0.56,0.53,0.51,0.53,
    0.55,0.58,0.60,0.62,0.65,0.68,0.70,0.69,0.68,0.72,
    0.75,0.72,0.70,0.68,0.65,0.85,1.04,0.85,0.70,0.65,
    0.60,0.59,0.58,0.56,0.55,0.56,0.57,0.58,0.60,0.62,
    0.64,0.61,0.58,0.59,0.60,0.58,0.55,0.53,0.52,0.53,
    0.54,0.55,0.55,0.56,0.58,0.59,0.60,0.61,0.62,0.61,
    0.60,0.61,0.62,0.64,0.65,0.64,0.62,0.63,0.64,0.63,
    0.62,0.61,0.60,0.56,0.53,0.54,0.55,0.62,0.70,0.78,
    0.85,0.92,0.99,0.88,0.75,0.68,0.62,0.59,0.56];
var regVerde = [0.70,0.75,0.80,0.76,0.72,0.70,0.68,0.67,0.66,0.65,
    0.65,0.63,0.62,0.60,0.58,0.57,0.56,0.55,0.55,0.57,
    0.60,0.62,0.65,0.63,0.62,0.64,0.66,0.68,0.70,0.80,
    0.89,0.82,0.75,0.78,0.82,0.84,0.86,0.78,0.70,0.68,
    0.65,0.68,0.72,0.76,0.80,0.74,0.68,0.66,0.65,0.68,
    0.70,0.72,0.75,0.74,0.72,0.90,1.05,0.92,0.80,0.76,
    0.72,0.68,0.65,0.62,0.60,0.63,0.66,0.68,0.70,0.66,
    0.62,0.64,0.65,0.66,0.68,0.66,0.65,0.68,0.70,0.71,
    0.72,0.70,0.68,0.72,0.75,0.78,0.80,0.76,0.72,0.92,
    1.13,0.95,0.80,0.75,0.70,0.71,0.72,0.74,0.75,0.80,
    0.85,0.88,0.90,0.92,0.95,0.88,0.80,0.76,0.72,0.71,
    0.70,0.69,0.68,0.70,0.72,0.74,0.75,0.82,0.90,0.88,
    0.85,0.86,0.88,0.92,0.97,0.95,0.92,0.86,0.80,0.82,
    0.85,0.84,0.82,0.80,0.78];
var regTicks = [0.6, 0.8, 1.0, 1.2, 1.4, 1.6];

var Painel = Painel || {};

// fundo cinza da area do grafico e tracinhos do eixo y
Painel.fundo = {
    id: 'fundo',
    beforeDraw: function(chart){
        var a = chart.chartArea;
        var ctx = chart.ctx;
        var eixo = chart.scales.y;
        ctx.save();
        ctx.fillStyle = '#E5E5E5';
        ctx.fillRect(a.left, a.top, a.right - a.left, a.bottom - a.top);
        ctx.strokeStyle = '#555555';
        ctx.lineWidth = 1.3;
        eixo.ticks.forEach(function(t){
            var y = Math.round(eixo.getPixelForValue(t.value)) + 0.5;
            ctx.beginPath();
            ctx.moveTo(a.left - 10, y);
            ctx.lineTo(a.left - 3, y);
            ctx.stroke();
        });
        ctx.restore();
    }
};

Painel.Grafico = (function(){

    function Grafico(id, titulo, series, ticks, casas, yMin, yMax){
        this.ctx = document.getElementById(id).getContext('2d');
        this.titulo = titulo;
        this.series = series;
        this.ticks = ticks;
        this.casas = casas;
        this.yMin = yMin;
        this.yMax = yMax;
    }

    Grafico.prototype.iniciar = function(){
        var ticks = this.ticks;
        var casas = this.casas;
        var datasets = this.series.map(function(valores, k){
            return {
                data: valores.map(function(v, i){ return {x: i, y: v}; }),
                borderColor: cores[k],
                borderWidth: 1.5,
                pointRadius: 0,
                tension: 0,
                fill: false,
                order: 6 - k
            };
        });

        new Chart(this.ctx, {
            type: 'line',
            data: { datasets: datasets },
            plugins: [Painel.fundo],
            options: {
                responsive: false,
                animation: false,
                events: [],
                layout: { padding: { bottom: 10 } },
                plugins: {
                    legend: { display: false },
                    tooltip: { enabled: false },
                    title: {
                        display: true,
                        fullSize: false,
                        text: this.titulo,
                        color: '#000000',
                        font: { family: 'DejaVu Sans', size: 19.6, weight: 'normal' },
                        padding: { top: 10.7, bottom: 9.8 }
                    }
                },
                scales: {
                    x: { type: 'linear', display: false, min: -6, max: 144 },
                    y: {
                        min: this.yMin,
                        max: this.yMax,
                        border: { display: false },
                        grid: { color: '#FFFFFF', lineWidth: 1.3, drawTicks: false },
                        ticks: {
                            color: '#555555',
                            padding: 20,
                            font: { family: 'DejaVu Sans', size: 13.8 },
                            callback: function(v){ return Number(v).toFixed(casas); }
                        },
                        afterBuildTicks: function(eixo){
                            eixo.ticks = ticks.map(function(v){ return {value: v}; });
                        },
                        afterFit: function(eixo){ eixo.width = 55; }
                    }
                }
            }
        });
    };

    return Grafico;
}());

(function(){
    var paineis = [
        new Painel.Grafico('g0', regioes[0], [nmVermelho, nmAzul, nmRoxo, nmCinza, nmAmarelo, nmVerde], nmTicks, 1, 0.529, 2.386),
        new Painel.Grafico('g1', regioes[1], [semVermelho, semAzul, semRoxo, semCinza, semAmarelo, semVerde], semTicks, 2, 0.536, 1.980),
        new Painel.Grafico('g2', regioes[2], [smVermelho, smAzul, smRoxo, smCinza, smAmarelo, smVerde], smTicks, 2, 0.450, 2.053),
        new Painel.Grafico('g3', regioes[3], [wmVermelho, wmAzul, wmRoxo, wmCinza, wmAmarelo, wmVerde], wmTicks, 1, 0.562, 2.597),
        new Painel.Grafico('g4', regioes[4], [bswVermelho, bswAzul, bswRoxo, bswCinza, bswAmarelo, bswVerde], bswTicks, 2, 0.480, 2.004),
        new Painel.Grafico('g5', regioes[5], [regVermelho, regAzul, regRoxo, regCinza, regAmarelo, regVerde], regTicks, 1, 0.462, 1.669)
    ];
    paineis.forEach(function(p){ p.iniciar(); });
}());
</script>
</body>
</html>
